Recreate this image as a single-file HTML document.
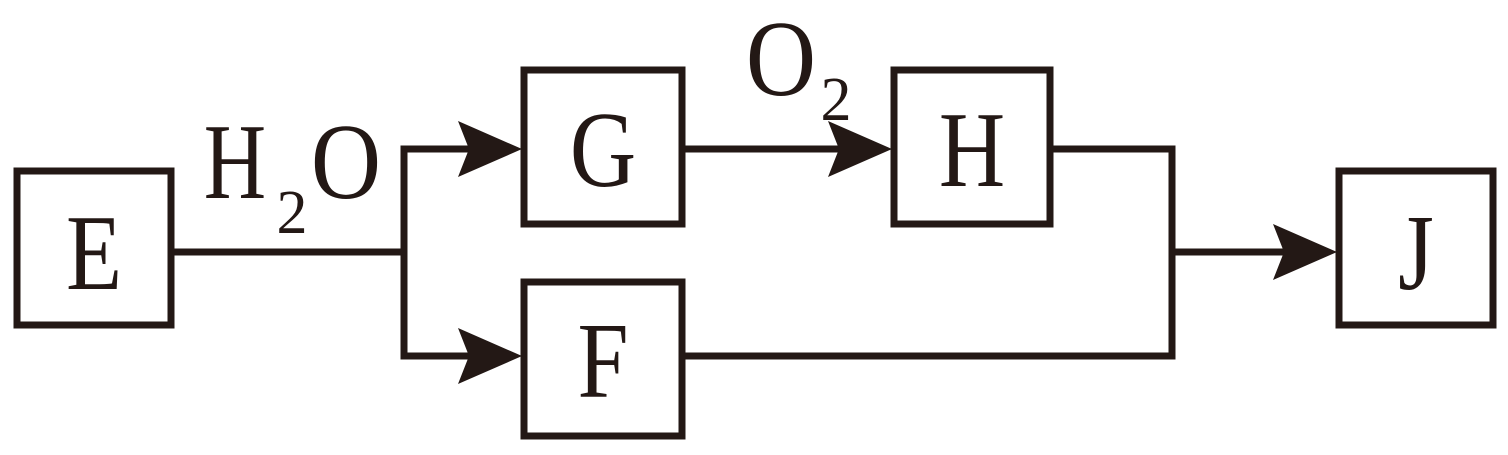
<!DOCTYPE html>
<html><head><style>html,body{margin:0;padding:0;background:#fff}
text{font-family:"Liberation Serif","Times New Roman",serif}</style></head>
<body>
<svg width="1508" height="450" viewBox="0 0 1508 450" xmlns="http://www.w3.org/2000/svg">
<g fill="none" stroke="#231815" stroke-width="7">
<rect x="17" y="171" width="154" height="154"/>
<rect x="524" y="70" width="158" height="154"/>
<rect x="894" y="70" width="156" height="154"/>
<rect x="524" y="282" width="158" height="154"/>
<rect x="1339" y="171" width="154" height="154"/>
<polyline points="171,252 404,252"/>
<polyline points="470,149 404,149 404,356 470,356"/>
<line x1="682" y1="149" x2="840" y2="149"/>
<polyline points="1050,149 1172,149 1172,356 682,356"/>
<line x1="1172" y1="252" x2="1290" y2="252"/>
</g>
<g fill="#231815">
<polygon points="522,149 458,121 469,149 458,177"/>
<polygon points="522,356 458,328 469,356 458,384"/>
<polygon points="892,149 828,121 839,149 828,177"/>
<polygon points="1337,252 1273,224 1284,252 1273,280"/>
</g>
<g fill="#231815" font-size="108" text-anchor="middle">
<text x="94" y="289" transform="translate(94 0) scale(0.85 1) translate(-94 0)">E</text>
<text x="603" y="186" transform="translate(603 0) scale(0.85 1) translate(-603 0)">G</text>
<text x="972" y="186" transform="translate(972 0) scale(0.85 1) translate(-972 0)">H</text>
<text x="603" y="397" transform="translate(603 0) scale(0.85 1) translate(-603 0)">F</text>
<text x="1416" y="289" transform="translate(1416 0) scale(0.85 1) translate(-1416 0)">J</text>
<text x="235" y="198" transform="translate(235 0) scale(0.8 1) translate(-235 0)">H</text>
<text x="346" y="198" transform="translate(346 0) scale(0.9 1) translate(-346 0)">O</text>
<text x="292" y="233" font-size="62">2</text>
<text x="781" y="95" transform="translate(781 0) scale(0.9 1) translate(-781 0)">O</text>
<text x="836" y="120" font-size="62">2</text>
</g>
</svg>
</body></html>
